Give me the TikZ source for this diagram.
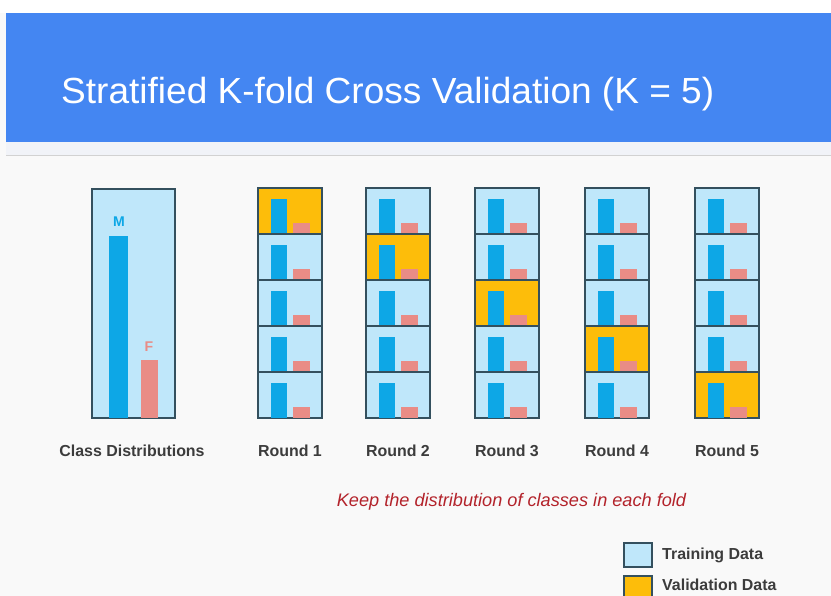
\documentclass[tikz,border=0pt]{standalone}
\usepackage{fontspec}
\usepackage{graphicx}
\setmainfont{Liberation Sans}
\newfontfamily\titlefont{Liberation Sans}
\usetikzlibrary{positioning}
\definecolor{hdrblue}{HTML}{4486F2}
\definecolor{hdrshade}{HTML}{F1F3F8}
\definecolor{pagebg}{HTML}{F9F9F9}
\definecolor{trainblue}{HTML}{BFE7FA}
\definecolor{valyellow}{HTML}{FDBD0A}
\definecolor{cellline}{HTML}{34505E}
\definecolor{mblue}{HTML}{0DA7E6}
\definecolor{fpink}{HTML}{E98C86}
\definecolor{labelgray}{HTML}{3C3C3C}
\definecolor{keepred}{HTML}{B3232B}
\newcommand\cellh{46}

\begin{document}
\begin{tikzpicture}[x=0.03cm, y=-0.03cm,
    cell/.style={draw=cellline, fill=trainblue, line width=0.9pt},
    caption/.style={font=\bfseries\fontsize{13.6}{15}\selectfont, text=labelgray}]
    \clip (0,0) rectangle (831,596);
    %page and header band
    \fill[pagebg] (0,0) rectangle (831,596);
    \fill[white] (0,0) rectangle (831,13);
    \fill[hdrblue] (6,13) rectangle (831,142);
    \fill[hdrshade] (6,142) rectangle (831,155);
    \draw[gray!35] (6,155) -- (831,155);
    \node[anchor=base west, inner sep=0, text=white, font=\titlefont\fontsize{31}{36}\selectfont] (title) at (61,104) {\scalebox{1.02}[1]{Stratified K-fold Cross Validation (K = 5)}};

    %class distributions
    \draw[cell] (92,189) rectangle (175,418);
    \fill[mblue] (109,236) rectangle (128,418);
    \fill[fpink] (141,360) rectangle (158,418);
    \node[font=\bfseries\fontsize{12}{14}\selectfont, text=mblue] (mlabel) at (119,222) {M};
    \node[font=\bfseries\fontsize{12}{14}\selectfont, text=fpink] (flabel) at (149,347) {F};
    \node[caption, anchor=base] (classes) at (132,456) {Class Distributions};

    %one column of folds per round
    \foreach \r/\x in {1/258, 2/366, 3/475, 4/585, 5/695} {
        \foreach \c in {1,...,5} {
            \pgfmathsetmacro\celltop{188+\cellh*(\c-1)}
            \ifnum\c=\r \def\cellfill{valyellow}\else\def\cellfill{trainblue}\fi
            \draw[cell, fill=\cellfill] (\x,\celltop) rectangle ++(64,\cellh);
            \fill[mblue] (\x+13,\celltop+11) rectangle (\x+29,\celltop+\cellh);
            \fill[fpink] (\x+35,\celltop+35) rectangle (\x+52,\celltop+\cellh);
        }
        \node[caption, anchor=base] (round\r) at (\x+32,456) {Round \r};
    }

    \node[anchor=base, font=\itshape\fontsize{15.5}{18}\selectfont, text=keepred] (keep) at (511.5,506) {Keep the distribution of classes in each fold};

    %legend
    \draw[cell] (624,543) rectangle (652,567);
    \node[caption, anchor=base west, inner sep=0] (trainlbl) at (662,559.5) {Training Data};
    \draw[cell, fill=valyellow] (624,576) rectangle (652,600);
    \node[caption, anchor=base west, inner sep=0] (vallbl) at (662,590.5) {Validation Data};
\end{tikzpicture}
\end{document}
